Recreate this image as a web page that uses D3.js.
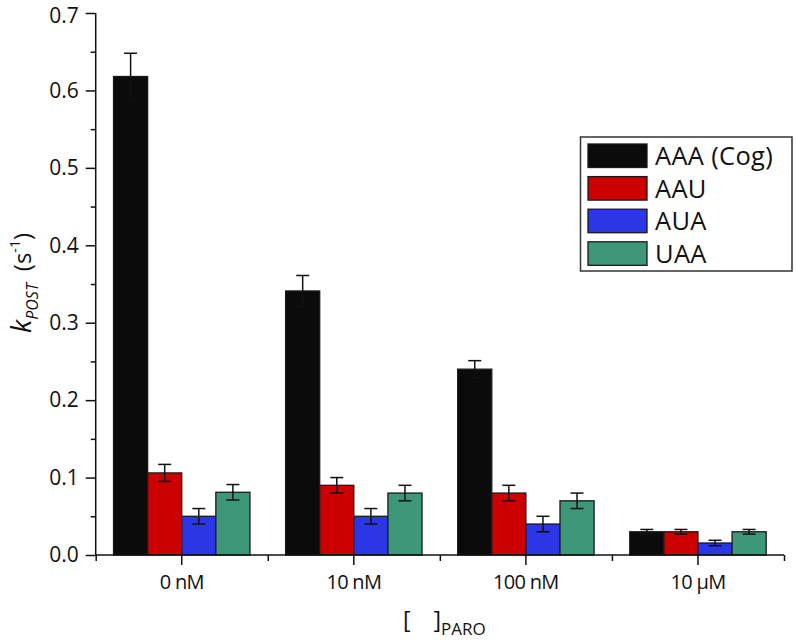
<!DOCTYPE html>
<html>
<head>
<meta charset="utf-8">
<script src="https://cdn.jsdelivr.net/npm/d3@7"></script>
<style>
  body { margin: 0; background: #fff; }
  svg { display: block; }
  text { font-family: "Open Sans", "Noto Sans", sans-serif; fill: #111; }
</style>
</head>
<body>
<svg id="chart" width="796" height="643"></svg>
<script>
// ---- data ----
const categories = ["0 nM", "10 nM", "100 nM", "10 \u00B5M"];
const seriesNames = ["AAA (Cog)", "AAU", "AUA", "UAA"];
const seriesColors = ["#0b0b0b", "#cc0000", "#2b36e6", "#3f977a"];
const valuesAAA = [0.618, 0.341, 0.240, 0.030];
const valuesAAU = [0.106, 0.090, 0.080, 0.030];
const valuesAUA = [0.050, 0.050, 0.040, 0.0155];
const valuesUAA = [0.081, 0.080, 0.070, 0.030];
const errorsAAA = [0.030, 0.020, 0.011, 0.003];
const errorsAAU = [0.011, 0.010, 0.010, 0.003];
const errorsAUA = [0.010, 0.010, 0.010, 0.0035];
const errorsUAA = [0.010, 0.010, 0.010, 0.003];
const yMajorTicks = [0, 0.1, 0.2, 0.3, 0.4, 0.5, 0.6, 0.7];
const yMinorTicks = [0.05, 0.15, 0.25, 0.35, 0.45, 0.55, 0.65];

const seriesValues = [valuesAAA, valuesAAU, valuesAUA, valuesUAA];
const seriesErrors = [errorsAAA, errorsAAU, errorsAUA, errorsUAA];

const svg = d3.select("#chart");
const mLeft = 95.7, mRight = 784, mTop = 13, mBottom = 555;

const x0 = d3.scaleBand().domain(categories).range([mLeft, mRight]).padding(0);
const x1 = d3.scaleBand().domain(seriesNames).range([0, x0.bandwidth()])
  .paddingInner(0).paddingOuter(0.523);
const y = d3.scaleLinear().domain([0, 0.7]).range([mBottom, mTop]);

const rows = [];
categories.forEach((c, ci) => {
  seriesNames.forEach((s, si) => {
    rows.push({cat: c, ser: s, si, v: seriesValues[si][ci], e: seriesErrors[si][ci]});
  });
});

// bars
svg.append("g").selectAll("rect").data(rows).join("rect")
  .attr("x", d => x0(d.cat) + x1(d.ser))
  .attr("y", d => y(d.v))
  .attr("width", x1.bandwidth())
  .attr("height", d => y(0) - y(d.v))
  .attr("fill", d => seriesColors[d.si])
  .attr("stroke", "#1a1a1a")
  .attr("stroke-width", 1.3);

// error bars
const eg = svg.append("g").attr("stroke", "#111").attr("stroke-width", 1.5);
const capW = 6.5;
rows.forEach(d => {
  const cx = x0(d.cat) + x1(d.ser) + x1.bandwidth() / 2;
  const yt = y(d.v + d.e), yb = y(d.v - d.e);
  eg.append("line").attr("x1", cx).attr("x2", cx).attr("y1", yt).attr("y2", yb);
  eg.append("line").attr("x1", cx - capW).attr("x2", cx + capW).attr("y1", yt).attr("y2", yt);
  eg.append("line").attr("x1", cx - capW).attr("x2", cx + capW).attr("y1", yb).attr("y2", yb);
});

// y axis
const yAxis = d3.axisLeft(y).tickValues(yMajorTicks).tickSize(10).tickPadding(7)
  .tickFormat(d3.format(".1f"));
const yg = svg.append("g").attr("transform", `translate(${mLeft},0)`).call(yAxis);
yg.select(".domain").remove();
yg.selectAll(".tick line").attr("stroke", "#111").attr("stroke-width", 1.5);
yg.selectAll(".tick text").style("font-size", "21px").style("font-family", "'Open Sans', sans-serif").attr("fill", "#111");
yg.selectAll(".tick text").filter(d => d === 0.7).attr("y", 2.5);
const yMinor = d3.axisLeft(y).tickValues(yMinorTicks).tickSize(5).tickFormat("");
const ygm = svg.append("g").attr("transform", `translate(${mLeft},0)`).call(yMinor);
ygm.select(".domain").remove();
ygm.selectAll(".tick line").attr("stroke", "#111").attr("stroke-width", 1.5);

// x axis
const xAxis = d3.axisBottom(x0).tickSize(10).tickPadding(10);
const xg = svg.append("g").attr("transform", `translate(0,${mBottom})`).call(xAxis);
xg.select(".domain").remove();
xg.selectAll(".tick line").attr("stroke", "#111").attr("stroke-width", 1.5);
xg.selectAll(".tick text").style("font-size", "20px").style("letter-spacing", "-0.7px")
  .style("font-family", "'Open Sans', sans-serif").attr("fill", "#111");
const boundaries = categories.map(c => x0(c)).concat([mRight]);
const xMinor = d3.axisBottom(d3.scaleLinear().domain([mLeft, mRight]).range([mLeft, mRight]))
  .tickValues(boundaries).tickSize(6).tickFormat("");
const xgm = svg.append("g").attr("transform", `translate(0,${mBottom})`).call(xMinor);
xgm.select(".domain").remove();
xgm.selectAll(".tick line").attr("stroke", "#111").attr("stroke-width", 1.5);

// axis lines
svg.append("line").attr("x1", mLeft).attr("x2", mLeft).attr("y1", y(0.7)).attr("y2", mBottom + 0.75)
  .attr("stroke", "#111").attr("stroke-width", 1.5);
svg.append("line").attr("x1", mLeft).attr("x2", mRight).attr("y1", mBottom).attr("y2", mBottom)
  .attr("stroke", "#111").attr("stroke-width", 1.5);

// y label
const yl = svg.append("text")
  .attr("transform", "translate(31,283) rotate(-90)")
  .attr("text-anchor", "middle")
  .style("font-size", "24px");
yl.append("tspan").text("k").style("font-style", "italic").style("font-size", "27px");
yl.append("tspan").text("POST").style("font-style", "italic").style("font-size", "16px").attr("dy", 7);
yl.append("tspan").text("\u2002(s").attr("dy", -7);
yl.append("tspan").text("-1").style("font-size", "14px").attr("dy", -11);
yl.append("tspan").text(")").attr("dy", 11);

// x label
const xl = svg.append("text").attr("x", 403).attr("y", 628).style("font-size", "23px");
xl.append("tspan").text("[\u2002\u2002]");
xl.append("tspan").text("PARO").style("font-size", "17px").attr("dy", 7);

// legend
const lg = svg.append("g");
lg.append("rect").attr("x", 580.5).attr("y", 137).attr("width", 211.5).attr("height", 134)
  .attr("fill", "#fff").attr("stroke", "#333").attr("stroke-width", 1.5);
seriesNames.forEach((s, i) => {
  const yy = 144 + i * 32.6;
  lg.append("rect").attr("x", 588).attr("y", yy).attr("width", 59).attr("height", 23.5)
    .attr("fill", seriesColors[i]).attr("stroke", "#1a1a1a").attr("stroke-width", 1.3);
  lg.append("text").attr("x", 655).attr("y", yy + 21).style("font-size", "25.5px")
    .style("letter-spacing", "0.3px").text(s);
});
</script>
</body>
</html>
